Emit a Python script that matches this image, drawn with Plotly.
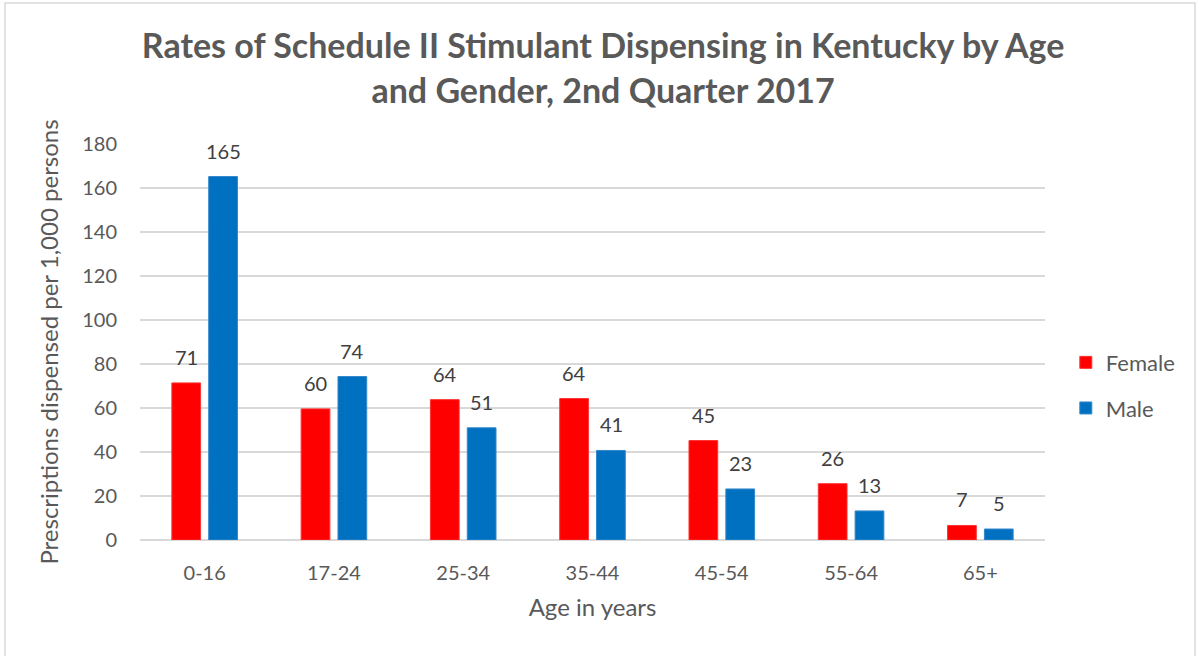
import plotly.graph_objects as go

categories = ["0-16", "17-24", "25-34", "35-44", "45-54", "55-64", "65+"]
female = [71.4, 59.6, 63.8, 64.3, 45.2, 25.6, 6.6]
male = [165.2, 74.3, 51.0, 40.7, 23.2, 13.2, 5.0]
y_ticks = [0, 20, 40, 60, 80, 100, 120, 140, 160, 180]

FONT = "Lato"
GRAY = "#595959"
LABEL = "#404040"

fig = go.Figure()
fig.add_trace(go.Bar(
    x=categories, y=female, name="Female", marker_color="#FF0000",
    marker_line=dict(color="#FF3333", width=1), legendgroup="f"))
fig.add_trace(go.Bar(
    x=categories, y=male, name="Male", marker_color="#0070C0",
    marker_line=dict(color="#3388CC", width=1), legendgroup="m"))

annotations = []
for series, shift in ((female, -18.5), (male, 18.5)):
    for cat, val in zip(categories, series):
        annotations.append(dict(
            x=cat, y=val, text=f"{val:.0f}", showarrow=False,
            xshift=shift, yshift=26, yanchor="middle",
            font=dict(family=FONT, size=20, color=LABEL)))

fig.update_layout(
    width=1199, height=656,
    paper_bgcolor="white", plot_bgcolor="white",
    margin=dict(l=140, r=154, t=144, b=116),
    barmode="group", bargap=0.43, bargroupgap=0.22,
    title=dict(text="Rates of Schedule II Stimulant Dispensing in Kentucky by Age<br>and Gender, 2nd Quarter 2017",
               x=0.503, xanchor="center", y=0.911, yanchor="middle",
               font=dict(family=FONT, size=34, color=GRAY, weight="bold")),
    font=dict(family=FONT, color=GRAY),
    legend=dict(x=1.023, y=0.39, xanchor="left", yanchor="middle",
                font=dict(family=FONT, size=22, color=GRAY),
                tracegroupgap=14, itemwidth=30),
    annotations=annotations,
    shapes=[dict(type="rect", xref="paper", yref="paper",
                 x0=(5 - 140) / 905, x1=(1195 - 140) / 905,
                 y0=(540 - 670) / 396, y1=(540 - 3) / 396,
                 line=dict(color="#D9D9D9", width=1.5))],
)
fig.update_xaxes(
    showgrid=False, showline=False, ticks="", automargin=False,
    tickfont=dict(family=FONT, size=20, color=GRAY), ticklabelstandoff=19,
    title=dict(text="Age in years", font=dict(family=FONT, size=24, color=GRAY), standoff=16),
)
fig.update_yaxes(
    range=[0, 180], tickvals=y_ticks, showgrid=True, gridcolor="#D9D9D9", gridwidth=1.5,
    zeroline=True, zerolinecolor="#D9D9D9", zerolinewidth=1.5, showline=False, ticks="",
    automargin=False,
    tickfont=dict(family=FONT, size=20, color=GRAY), ticklabelstandoff=22,
    title=dict(text="Prescriptions dispensed per 1,000 persons",
               font=dict(family=FONT, size=24, color=GRAY), standoff=16),
)

fig.write_html("out.html", config={"displayModeBar": False},
               post_script="document.body.style.margin='0';")
